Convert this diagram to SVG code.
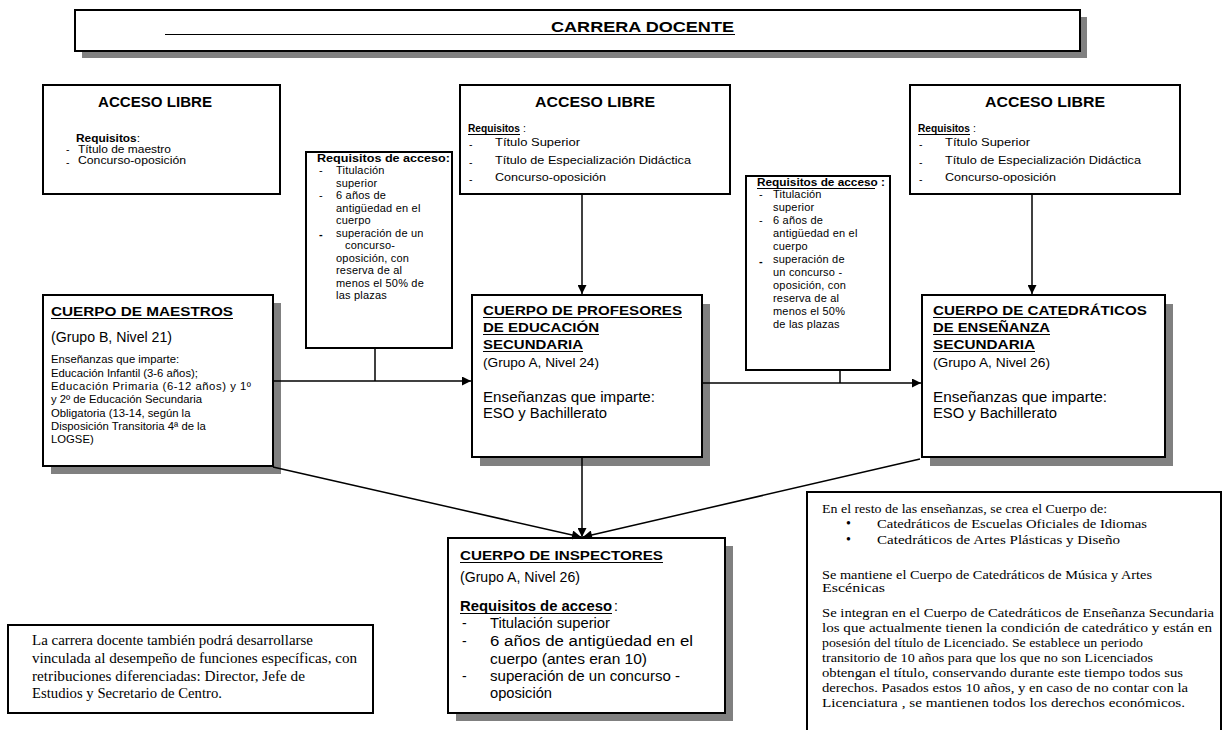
<svg xmlns="http://www.w3.org/2000/svg" width="1222" height="730" viewBox="0 0 1222 730">
<style>
.bx{fill:#fff;stroke:#000;stroke-width:2}
.sh{fill:#808080}
.a{font-family:"Liberation Sans",Arial,sans-serif;fill:#000}
.t{font-family:"Liberation Serif","Times New Roman",serif;fill:#000}
.bd{font-weight:bold}
.r{font-size:11px;letter-spacing:0.2px}
.m{font-size:11.3px}
.ul{stroke:#000;stroke-width:1.2}
.c{stroke:#000;stroke-width:1.5;fill:none}
</style>
<defs>
<marker id="ar" viewBox="0 0 10 10" refX="10" refY="5" markerWidth="11" markerHeight="9" markerUnits="userSpaceOnUse" orient="auto"><path d="M0,0 L10,5 L0,10 z" fill="#000"/></marker>
</defs>
<rect width="1222" height="730" fill="#fff"/>

<g id="title">
<rect class="sh" x="82" y="17" width="1005" height="41"/>
<rect class="bx" x="75" y="10" width="1005" height="41"/>
<text class="a bd" x="551" y="32" font-size="15" textLength="183" lengthAdjust="spacingAndGlyphs">CARRERA DOCENTE</text>
<line class="ul" x1="165" y1="34.5" x2="735" y2="34.5" stroke-width="1.5"/>
</g>

<g id="acceso1">
<rect class="bx" x="43" y="85" width="237" height="109"/>
<text class="a bd" x="98" y="107" font-size="14" textLength="114" lengthAdjust="spacingAndGlyphs">ACCESO LIBRE</text>
<text class="a" x="76" y="142" font-size="10.5" textLength="64" lengthAdjust="spacingAndGlyphs"><tspan class="bd">Requisitos</tspan>:</text>
<text class="a" x="66" y="153" font-size="10.5">-</text>
<text class="a" x="78" y="153" font-size="10.5" textLength="93" lengthAdjust="spacingAndGlyphs">Título de maestro</text>
<text class="a" x="66" y="166" font-size="10.5">-</text>
<text class="a" x="78" y="164" font-size="10.5" textLength="108" lengthAdjust="spacingAndGlyphs">Concurso-oposición</text>
</g>

<g id="requisitos1">
<rect class="bx" x="306" y="152" width="146" height="196"/>
<text class="a bd" x="317" y="162" font-size="10.5" textLength="133" lengthAdjust="spacingAndGlyphs">Requisitos de  acceso:</text>
<text class="a r" x="319" y="174">-</text>
<text class="a r" x="336" y="174">Titulación</text>
<text class="a r" x="336" y="186.5">superior</text>
<text class="a r" x="319" y="199">-</text>
<text class="a r" x="336" y="199">6 años de</text>
<text class="a r" x="336" y="211.5">antigüedad en el</text>
<text class="a r" x="336" y="224">cuerpo</text>
<text class="a r bd" x="319" y="238">-</text>
<text class="a r" x="336" y="236.5">superación de  un</text>
<text class="a r" x="345" y="249">concurso-</text>
<text class="a r" x="336" y="261.5">oposición, con</text>
<text class="a r" x="336" y="274">reserva de al</text>
<text class="a r" x="336" y="286.5">menos el 50% de</text>
<text class="a r" x="336" y="299">las plazas</text>
</g>

<g id="acceso2">
<rect class="bx" x="460" y="85" width="270" height="109"/>
<text class="a bd" x="535" y="107" font-size="14" textLength="120" lengthAdjust="spacingAndGlyphs">ACCESO LIBRE</text>
<text class="a bd" x="468" y="132" font-size="10.5" textLength="52" lengthAdjust="spacingAndGlyphs">Requisitos</text>
<line class="ul" x1="468" y1="134.5" x2="520" y2="134.5"/>
<text class="a" x="523" y="132" font-size="10.5">:</text>
<text class="a" x="469" y="148" font-size="10.5">-</text>
<text class="a" x="495" y="146" font-size="10.5" textLength="85" lengthAdjust="spacingAndGlyphs">Título Superior</text>
<text class="a" x="469" y="166" font-size="10.5">-</text>
<text class="a" x="495" y="164" font-size="10.5" textLength="196" lengthAdjust="spacingAndGlyphs">Título de  Especialización Didáctica</text>
<text class="a" x="469" y="183" font-size="10.5">-</text>
<text class="a" x="495" y="181" font-size="10.5" textLength="111" lengthAdjust="spacingAndGlyphs">Concurso-oposición</text>
</g>

<g id="acceso3">
<rect class="bx" x="910" y="85" width="270" height="109"/>
<text class="a bd" x="985" y="107" font-size="14" textLength="120" lengthAdjust="spacingAndGlyphs">ACCESO LIBRE</text>
<text class="a bd" x="918" y="132" font-size="10.5" textLength="52" lengthAdjust="spacingAndGlyphs">Requisitos</text>
<line class="ul" x1="918" y1="134.5" x2="970" y2="134.5"/>
<text class="a" x="973" y="132" font-size="10.5">:</text>
<text class="a" x="919" y="148" font-size="10.5">-</text>
<text class="a" x="945" y="146" font-size="10.5" textLength="85" lengthAdjust="spacingAndGlyphs">Título Superior</text>
<text class="a" x="919" y="166" font-size="10.5">-</text>
<text class="a" x="945" y="164" font-size="10.5" textLength="196" lengthAdjust="spacingAndGlyphs">Título de  Especialización  Didáctica</text>
<text class="a" x="919" y="183" font-size="10.5">-</text>
<text class="a" x="945" y="181" font-size="10.5" textLength="111" lengthAdjust="spacingAndGlyphs">Concurso-oposición</text>
</g>

<g id="requisitos2">
<rect class="bx" x="746" y="176" width="144" height="194"/>
<text class="a bd" x="757" y="186" font-size="10.5" textLength="128" lengthAdjust="spacingAndGlyphs">Requisitos de acceso :</text>
<line class="ul" x1="757" y1="188.5" x2="875" y2="188.5"/>
<text class="a r" x="759" y="198">-</text>
<text class="a r" x="773" y="198">Titulación</text>
<text class="a r" x="773" y="211">superior</text>
<text class="a r" x="759" y="224">-</text>
<text class="a r" x="773" y="224">6 años de</text>
<text class="a r" x="773" y="237">antigüedad en el</text>
<text class="a r" x="773" y="250">cuerpo</text>
<text class="a r bd" x="759" y="265">-</text>
<text class="a r" x="773" y="263">superación de</text>
<text class="a r" x="773" y="276">un concurso -</text>
<text class="a r" x="773" y="289">oposición, con</text>
<text class="a r" x="773" y="302">reserva de al</text>
<text class="a r" x="773" y="315">menos el 50%</text>
<text class="a r" x="773" y="328">de las plazas</text>
</g>

<g id="maestros">
<rect class="sh" x="51" y="303" width="230" height="171"/>
<rect class="bx" x="43" y="295" width="230" height="171"/>
<text class="a bd" x="51" y="316" font-size="13" textLength="182" lengthAdjust="spacingAndGlyphs">CUERPO DE MAESTROS</text>
<line class="ul" x1="51" y1="318.5" x2="233" y2="318.5"/>
<text class="a" x="51" y="342" font-size="14" textLength="121" lengthAdjust="spacingAndGlyphs">(Grupo B, Nivel 21)</text>
<text class="a m" x="51" y="363">Enseñanzas que imparte:</text>
<text class="a m" x="51" y="377">Educación Infantil (3-6 años);</text>
<text class="a m" x="51" y="390" textLength="200" lengthAdjust="spacing">Educación Primaria (6-12 años) y 1º</text>
<text class="a m" x="51" y="403">y 2º de Educación Secundaria</text>
<text class="a m" x="51" y="417">Obligatoria (13-14, según la</text>
<text class="a m" x="51" y="430">Disposición Transitoria 4ª de la</text>
<text class="a m" x="51" y="443">LOGSE)</text>
</g>

<g id="profesores">
<rect class="sh" x="480" y="304" width="230" height="162"/>
<rect class="bx" x="472" y="295" width="230" height="162"/>
<text class="a bd" x="483" y="315" font-size="13" textLength="199" lengthAdjust="spacingAndGlyphs">CUERPO DE PROFESORES</text>
<line class="ul" x1="483" y1="317.5" x2="682" y2="317.5"/>
<text class="a bd" x="483" y="332" font-size="13" textLength="116" lengthAdjust="spacingAndGlyphs">DE EDUCACIÓN</text>
<line class="ul" x1="483" y1="334.5" x2="599" y2="334.5"/>
<text class="a bd" x="483" y="349" font-size="13" textLength="100" lengthAdjust="spacingAndGlyphs">SECUNDARIA</text>
<line class="ul" x1="483" y1="351.5" x2="583" y2="351.5"/>
<text class="a" x="483" y="367" font-size="13.5" textLength="116" lengthAdjust="spacingAndGlyphs">(Grupo A,  Nivel 24)</text>
<text class="a" x="483" y="402" font-size="14" textLength="172" lengthAdjust="spacingAndGlyphs">Enseñanzas que imparte:</text>
<text class="a" x="483" y="418" font-size="14" textLength="124" lengthAdjust="spacingAndGlyphs">ESO y Bachillerato</text>
</g>

<g id="catedraticos">
<rect class="sh" x="930" y="304" width="243" height="162"/>
<rect class="bx" x="922" y="295" width="243" height="162"/>
<text class="a bd" x="933" y="315" font-size="13" textLength="214" lengthAdjust="spacingAndGlyphs">CUERPO DE CATEDRÁTICOS</text>
<line class="ul" x1="933" y1="317.5" x2="1068" y2="317.5"/>
<text class="a bd" x="933" y="332" font-size="13" textLength="117" lengthAdjust="spacingAndGlyphs">DE ENSEÑANZA</text>
<line class="ul" x1="933" y1="334.5" x2="1050" y2="334.5"/>
<text class="a bd" x="933" y="349" font-size="13" textLength="102" lengthAdjust="spacingAndGlyphs">SECUNDARIA</text>
<line class="ul" x1="933" y1="351.5" x2="1035" y2="351.5"/>
<text class="a" x="933" y="367" font-size="13.5" textLength="117" lengthAdjust="spacingAndGlyphs">(Grupo A, Nivel 26)</text>
<text class="a" x="933" y="402" font-size="14" textLength="174" lengthAdjust="spacingAndGlyphs">Enseñanzas  que imparte:</text>
<text class="a" x="933" y="418" font-size="14" textLength="124" lengthAdjust="spacingAndGlyphs">ESO y Bachillerato</text>
</g>

<g id="inspectores">
<rect class="sh" x="456" y="546" width="277" height="175"/>
<rect class="bx" x="448" y="538" width="277" height="175"/>
<text class="a bd" x="460" y="560" font-size="13" textLength="203" lengthAdjust="spacingAndGlyphs">CUERPO DE INSPECTORES</text>
<line class="ul" x1="460" y1="562.5" x2="663" y2="562.5"/>
<text class="a" x="460" y="582" font-size="14" textLength="120" lengthAdjust="spacingAndGlyphs">(Grupo A,  Nivel 26)</text>
<text class="a bd" x="460" y="611" font-size="14" textLength="152" lengthAdjust="spacingAndGlyphs">Requisitos de acceso</text>
<line class="ul" x1="460" y1="613.5" x2="612" y2="613.5"/>
<text class="a" x="614" y="611" font-size="14">:</text>
<text class="a" x="462" y="628" font-size="14">-</text>
<text class="a" x="490" y="628" font-size="14" textLength="120" lengthAdjust="spacingAndGlyphs">Titulación superior</text>
<text class="a" x="462" y="646" font-size="14">-</text>
<text class="a" x="490" y="646" font-size="14" textLength="203" lengthAdjust="spacingAndGlyphs">6 años de antigüedad en el</text>
<text class="a" x="490" y="664" font-size="14" textLength="157" lengthAdjust="spacingAndGlyphs">cuerpo (antes eran 10)</text>
<text class="a" x="462" y="681" font-size="14">-</text>
<text class="a" x="490" y="681" font-size="14" textLength="190" lengthAdjust="spacingAndGlyphs">superación de un concurso -</text>
<text class="a" x="490" y="698" font-size="14" textLength="62" lengthAdjust="spacingAndGlyphs">oposición</text>
</g>

<g id="nota-carrera">
<rect class="bx" x="8" y="625" width="365" height="88"/>
<text class="t" x="32" y="645" font-size="14" textLength="281" lengthAdjust="spacingAndGlyphs">La carrera docente también  podrá desarrollarse</text>
<text class="t" x="32" y="663" font-size="14" textLength="325" lengthAdjust="spacingAndGlyphs">vinculada al  desempeño de  funciones específicas, con</text>
<text class="t" x="32" y="681" font-size="14" textLength="273" lengthAdjust="spacingAndGlyphs">retribuciones diferenciadas: Director,  Jefe de</text>
<text class="t" x="32" y="698" font-size="14" textLength="190" lengthAdjust="spacingAndGlyphs">Estudios y  Secretario de Centro.</text>
</g>

<g id="nota-ensenanzas">
<rect class="bx" x="807" y="492" width="414" height="260"/>
<text class="t" x="822" y="513" font-size="12.5" textLength="285" lengthAdjust="spacingAndGlyphs">En el resto de las enseñanzas, se crea el  Cuerpo de:</text>
<text class="t" x="846" y="528" font-size="14">•</text>
<text class="t" x="877" y="528" font-size="12.5" textLength="270" lengthAdjust="spacingAndGlyphs">Catedráticos de Escuelas Oficiales de Idiomas</text>
<text class="t" x="846" y="544" font-size="14">•</text>
<text class="t" x="877" y="544" font-size="12.5" textLength="243" lengthAdjust="spacingAndGlyphs">Catedráticos de Artes Plásticas y Diseño</text>
<text class="t" x="822" y="579" font-size="12.5" textLength="330" lengthAdjust="spacingAndGlyphs">Se mantiene el Cuerpo de Catedráticos de  Música y Artes</text>
<text class="t" x="822" y="592" font-size="12.5" textLength="63" lengthAdjust="spacingAndGlyphs">Escénicas</text>
<text class="t" x="822" y="617" font-size="12.5" textLength="392" lengthAdjust="spacingAndGlyphs">Se integran en el Cuerpo de Catedráticos de  Enseñanza Secundaria</text>
<text class="t" x="822" y="632" font-size="12.5" textLength="390" lengthAdjust="spacingAndGlyphs">los que actualmente  tienen  la condición de catedrático y están en</text>
<text class="t" x="822" y="647" font-size="12.5" textLength="321" lengthAdjust="spacingAndGlyphs">posesión del título de Licenciado. Se establece un periodo</text>
<text class="t" x="822" y="662" font-size="12.5" textLength="331" lengthAdjust="spacingAndGlyphs">transitorio de 10 años para que los que no son Licenciados</text>
<text class="t" x="822" y="677" font-size="12.5" textLength="361" lengthAdjust="spacingAndGlyphs">obtengan el  título, conservando durante este tiempo todos sus</text>
<text class="t" x="822" y="692" font-size="12.5" textLength="366" lengthAdjust="spacingAndGlyphs">derechos. Pasados  estos 10 años, y en caso de no contar con la</text>
<text class="t" x="822" y="707" font-size="12.5" textLength="363" lengthAdjust="spacingAndGlyphs">Licenciatura , se mantienen  todos  los derechos económicos.</text>
</g>

<g id="connectors" class="c">
<line x1="582" y1="194" x2="582" y2="294" marker-end="url(#ar)"/>
<line x1="1032" y1="194" x2="1032" y2="294" marker-end="url(#ar)"/>
<line x1="273" y1="381" x2="471" y2="381" marker-end="url(#ar)"/>
<line x1="375" y1="348" x2="375" y2="381"/>
<line x1="702" y1="383" x2="921" y2="383" marker-end="url(#ar)"/>
<line x1="840" y1="370" x2="840" y2="383"/>
<line x1="582" y1="457" x2="582" y2="537" marker-end="url(#ar)"/>
<line x1="273" y1="467" x2="581" y2="537" marker-end="url(#ar)"/>
<line x1="920" y1="459" x2="583" y2="537" marker-end="url(#ar)"/>
</g>
</svg>
